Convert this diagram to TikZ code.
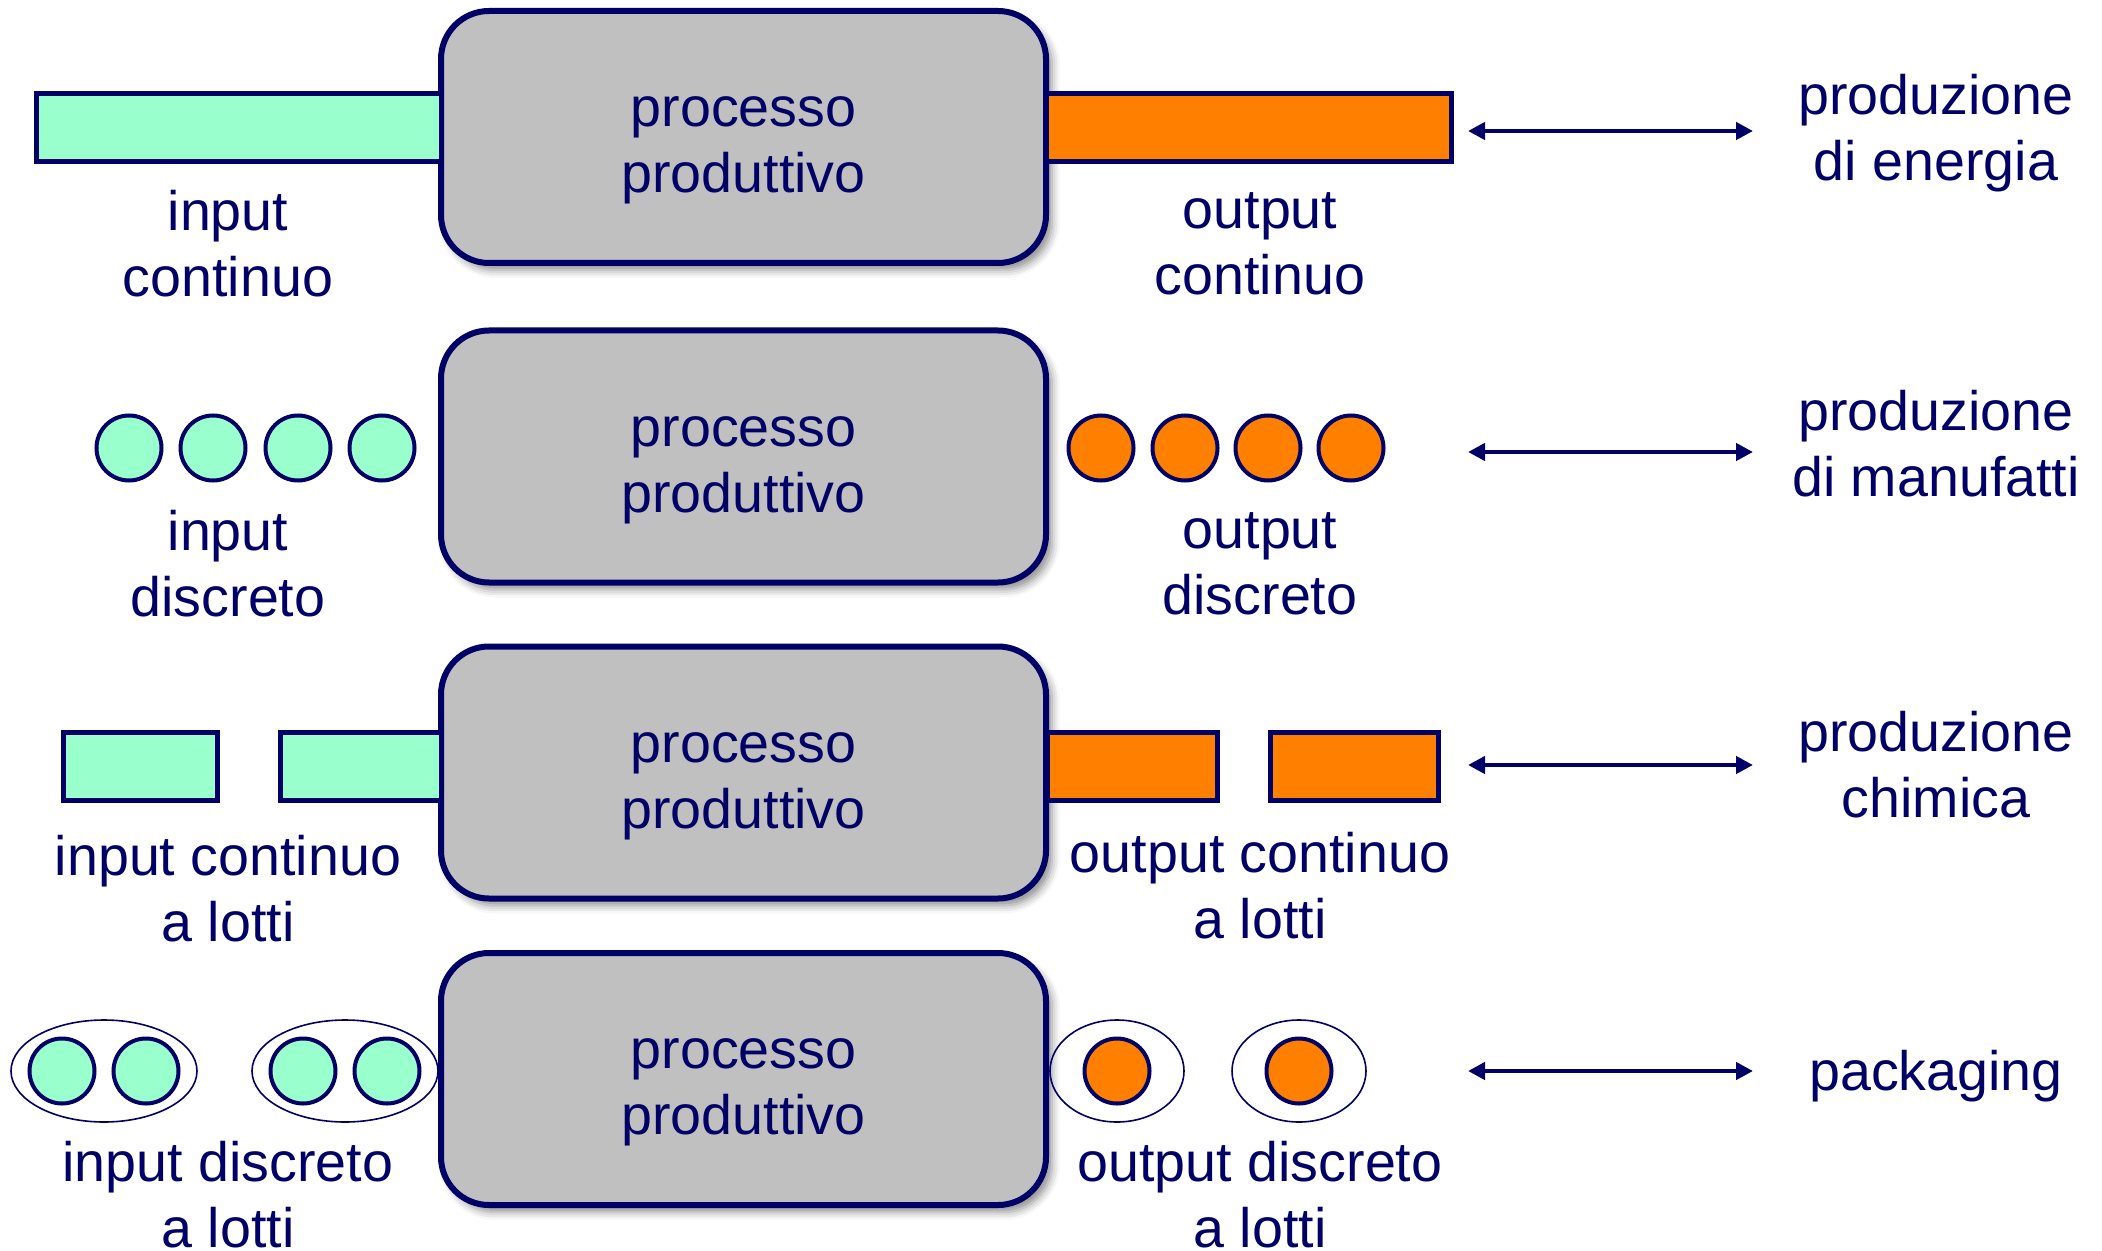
\documentclass[tikz,border=0pt]{standalone}
\usepackage{fontspec}
\setmainfont{Liberation Sans}
\usetikzlibrary{arrows.meta,shadows.blur}

\definecolor{navy}{RGB}{0,0,102}
\definecolor{mint}{RGB}{153,255,204}
\definecolor{orng}{RGB}{255,128,0}
\definecolor{boxgrey}{RGB}{192,192,192}

\tikzset{
  txt/.style={text=navy, font=\fontsize{27.8}{33}\selectfont, align=center, inner sep=0pt},
  proc/.style={draw=navy, line width=3pt, fill=boxgrey, rounded corners=24pt,
    minimum width=302.5pt, minimum height=126pt,
    blur shadow={shadow xshift=3pt, shadow yshift=-3.5pt, shadow blur radius=4pt, shadow opacity=45}},
  proctxt/.style={txt, yshift=-6.7pt},
  inbar/.style={draw=navy, line width=2.5pt, fill=mint},
  outbar/.style={draw=navy, line width=2.5pt, fill=orng},
  inpiece/.style={circle, draw=navy, line width=2pt, fill=mint, minimum size=32.5pt, inner sep=0pt},
  outpiece/.style={inpiece, fill=orng},
  lot/.style={draw=navy, line width=0.8pt},
  link/.style={draw=navy, line width=2.2pt, {Triangle[length=8.5pt,width=8.5pt]}-{Triangle[length=8.5pt,width=8.5pt]}},
}

\begin{document}
\begin{tikzpicture}[x=0.5pt,y=0.5pt,yscale=-1,xscale=1]
	\useasboundingbox (0,0) rectangle (2102,1251);
	
	% ---- riga 1: energia
	\node[proc] (box1) at (743.5,137) {};
	\node[proctxt] (t1) at (box1) {processo\\produttivo};
	%Shape: Rectangle
	\draw[inbar] (36,94) rectangle (441,162);
	%Shape: Rectangle
	\draw[outbar] (1046,94) rectangle (1451,162);
	% Text Node
	\node[txt] (in1) at (228,243.5) {input\\continuo};
	% Text Node
	\node[txt] (out1) at (1260,243.5) {output\\continuo};
	% Text Node
	\node[txt] (kind1) at (1936,133.5) {produzione\\di energia};
	\coordinate (a1) at (1468,131);
	\coordinate (b1) at (1753,131);
	\draw[link] (a1) -- (b1);
	
	% ---- riga 2: manufatti
	\node[proc] (box2) at (743.5,456.5) {};
	\node[proctxt] (t2) at (box2) {processo\\produttivo};
	\node[inpiece] (p21) at (129,448) {};
	\node[inpiece] (p22) at (213,448) {};
	\node[inpiece] (p23) at (298,448) {};
	\node[inpiece] (p24) at (382,448) {};
	\node[outpiece] (q21) at (1101,448) {};
	\node[outpiece] (q22) at (1185,448) {};
	\node[outpiece] (q23) at (1268,448) {};
	\node[outpiece] (q24) at (1351,448) {};
	% Text Node
	\node[txt] (in2) at (228,563.5) {input\\discreto};
	% Text Node
	\node[txt] (out2) at (1260,563.5) {output\\discreto};
	% Text Node
	\node[txt] (kind2) at (1936,443.5) {produzione\\di manufatti};
	\coordinate (a2) at (1468,452);
	\coordinate (b2) at (1753,452);
	\draw[link] (a2) -- (b2);
	
	% ---- riga 3: chimica
	\node[proc] (box3) at (743.5,772.5) {};
	\node[proctxt] (t3) at (box3) {processo\\produttivo};
	%Shape: Rectangle
	\draw[inbar] (63,732) rectangle (217,800);
	\draw[inbar] (280,732) rectangle (441,800);
	%Shape: Rectangle
	\draw[outbar] (1047,732) rectangle (1217,800);
	\draw[outbar] (1270,732) rectangle (1438,800);
	% Text Node
	\node[txt] (in3) at (228,889) {input continuo\\a lotti};
	% Text Node
	\node[txt] (out3) at (1260,886) {output continuo\\a lotti};
	% Text Node
	\node[txt] (kind3) at (1936,764.5) {produzione\\chimica};
	\coordinate (a3) at (1468,765);
	\coordinate (b3) at (1753,765);
	\draw[link] (a3) -- (b3);
	
	% ---- riga 4: packaging
	\node[proc] (box4) at (743.5,1079) {};
	\node[proctxt] (t4) at (box4) {processo\\produttivo};
	%Shape: Ellipse
	\draw[lot] (104,1071) ellipse [x radius=93, y radius=51];
	\draw[lot] (345,1071) ellipse [x radius=93, y radius=51];
	\draw[lot] (1117,1071) ellipse [x radius=67, y radius=51];
	\draw[lot] (1299,1071) ellipse [x radius=67, y radius=51];
	\node[inpiece] (p41) at (62,1071) {};
	\node[inpiece] (p42) at (146,1071) {};
	\node[inpiece] (p43) at (303,1071) {};
	\node[inpiece] (p44) at (387,1071) {};
	\node[outpiece] (q41) at (1117,1071) {};
	\node[outpiece] (q42) at (1299,1071) {};
	% Text Node
	\node[txt] (in4) at (228,1195) {input discreto\\a lotti};
	% Text Node
	\node[txt] (out4) at (1260,1195) {output discreto\\a lotti};
	% Text Node
	\node[txt] (kind4) at (1936,1076) {packaging};
	\coordinate (a4) at (1468,1071);
	\coordinate (b4) at (1753,1071);
	\draw[link] (a4) -- (b4);
	
\end{tikzpicture}
\end{document}
